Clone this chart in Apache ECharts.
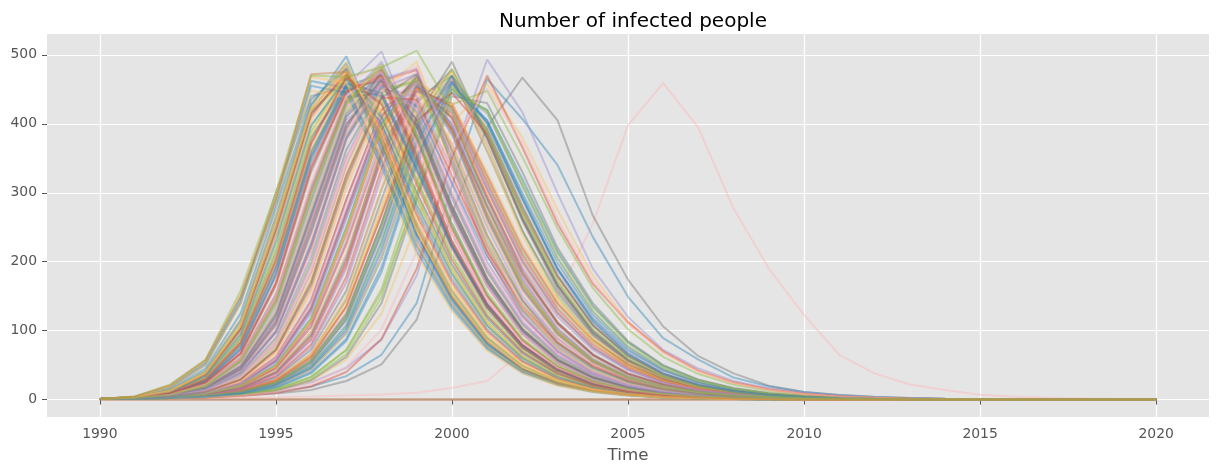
<!DOCTYPE html>
<html>
<head>
<meta charset="utf-8">
<title>Number of infected people</title>
<script src="https://cdn.jsdelivr.net/npm/echarts@6/dist/echarts.min.js"></script>
<style>
  html, body { margin: 0; padding: 0; background: #fff; }
  #chart { width: 1218px; height: 475px; }
</style>
</head>
<body>
<div id="chart"></div>
<script>
// simulated outbreaks, one value per year
const years = [1990, 1991, 1992, 1993, 1994, 1995, 1996, 1997, 1998, 1999, 2000, 2001, 2002, 2003, 2004, 2005,
  2006, 2007, 2008, 2009, 2010, 2011, 2012, 2013, 2014, 2015, 2016, 2017, 2018, 2019, 2020]
const xTicks = [1990, 1995, 2000, 2005, 2010, 2015, 2020]
const yTicks = [0, 100, 200, 300, 400, 500]

const batchA = [
  [1, 3, 11, 35, 100, 240, 410, 478, 370, 240, 148, 82, 44, 24, 13, 7, 4, 2.3, 1.3, 0.8, 0.5, 0.3, 0.2, 0.1, 0.1, 0, 0, 0, 0, 0, 0],
  [1, 2.4, 7, 20, 55, 140, 290, 430, 468, 380, 255, 150, 85, 47, 26, 14, 8, 4.5, 2.5, 1.4, 0.8, 0.5, 0.3, 0.2, 0.1, 0.1, 0, 0, 0, 0, 0],
  [1, 1.8, 4, 10, 25, 62, 145, 290, 420, 462, 370, 250, 150, 88, 50, 28, 16, 9, 5, 2.8, 1.6, 0.9, 0.5, 0.3, 0.2, 0.1, 0.1, 0, 0, 0, 0],
  [1, 2.8, 9, 28, 78, 190, 360, 455, 472, 350, 225, 135, 76, 42, 23, 12, 7, 3.8, 2.1, 1.2, 0.7, 0.4, 0.2, 0.1, 0.1, 0, 0, 0, 0, 0, 0],
  [1, 3.5, 14, 42, 118, 270, 430, 485, 380, 245, 150, 83, 45, 24, 13, 7, 3.9, 2.2, 1.2, 0.7, 0.4, 0.2, 0.1, 0.1, 0, 0, 0, 0, 0, 0, 0],
  [1, 1.5, 2.6, 5, 10, 22, 48, 105, 225, 380, 455, 390, 270, 170, 100, 58, 33, 19, 11, 6, 3.4, 1.9, 1.1, 0.6, 0.3, 0.2, 0.1, 0.1, 0, 0, 0],
  [1, 2, 5, 13, 34, 85, 195, 350, 445, 475, 350, 220, 130, 74, 41, 23, 13, 7, 4, 2.2, 1.2, 0.7, 0.4, 0.2, 0.1, 0.1, 0, 0, 0, 0, 0],
  [1, 2.2, 6, 17, 45, 115, 255, 400, 458, 395, 270, 165, 95, 53, 29, 16, 9, 5, 2.8, 1.5, 0.9, 0.5, 0.3, 0.2, 0.1, 0.1, 0, 0, 0, 0, 0],
  [1, 3, 12, 36, 102, 245, 415, 470, 400, 275, 175, 102, 57, 31, 17, 9, 5, 2.8, 1.5, 0.9, 0.5, 0.3, 0.2, 0.1, 0.1, 0, 0, 0, 0, 0, 0],
  [1, 1.7, 3.5, 8, 19, 46, 108, 230, 380, 455, 400, 280, 175, 103, 59, 33, 18, 10, 5.6, 3.1, 1.7, 1, 0.5, 0.3, 0.2, 0.1, 0.1, 0, 0, 0, 0],
  [1, 2.6, 8, 24, 66, 165, 330, 445, 480, 360, 230, 138, 78, 43, 23, 13, 7, 3.8, 2.1, 1.2, 0.6, 0.4, 0.2, 0.1, 0.1, 0, 0, 0, 0, 0, 0],
  [1, 2.8, 10, 30, 86, 210, 380, 468, 420, 300, 195, 115, 64, 35, 19, 10, 5.5, 3, 1.7, 0.9, 0.5, 0.3, 0.2, 0.1, 0.1, 0, 0, 0, 0, 0, 0],
  [1, 1.6, 3, 6, 13, 28, 62, 135, 270, 410, 470, 370, 245, 150, 88, 50, 28, 16, 9, 5, 2.8, 1.5, 0.8, 0.5, 0.3, 0.2, 0.1, 0, 0, 0, 0],
  [1, 2, 5, 14, 38, 95, 215, 370, 462, 420, 300, 190, 112, 64, 36, 20, 11, 6, 3.4, 1.9, 1, 0.6, 0.3, 0.2, 0.1, 0.1, 0, 0, 0, 0, 0],
  [1, 2.1, 5.5, 15, 39, 98, 220, 380, 462, 478, 340, 210, 122, 69, 38, 21, 12, 6.5, 3.6, 2, 1.1, 0.6, 0.3, 0.2, 0.1, 0.1, 0, 0, 0, 0, 0],
  [1, 3.2, 13, 40, 112, 260, 425, 498, 375, 238, 145, 80, 43, 23, 12, 6.5, 3.5, 1.9, 1, 0.6, 0.3, 0.2, 0.1, 0.1, 0, 0, 0, 0, 0, 0, 0],
  [1, 2.5, 7.5, 22, 60, 150, 305, 435, 490, 385, 250, 150, 85, 47, 26, 14, 7.5, 4, 2.2, 1.2, 0.7, 0.4, 0.2, 0.1, 0.1, 0, 0, 0, 0, 0, 0],
  [1, 3.8, 17, 50, 140, 300, 440, 455, 350, 225, 138, 76, 41, 22, 12, 6.5, 3.5, 1.9, 1, 0.6, 0.3, 0.2, 0.1, 0.1, 0, 0, 0, 0, 0, 0, 0],
  [1, 1.9, 4.5, 11, 28, 70, 160, 315, 440, 468, 365, 240, 145, 84, 47, 26, 14, 8, 4.4, 2.4, 1.3, 0.7, 0.4, 0.2, 0.1, 0.1, 0, 0, 0, 0, 0],
  [1, 2.3, 6.5, 19, 50, 128, 275, 420, 470, 400, 280, 175, 102, 58, 32, 18, 10, 5.5, 3, 1.7, 0.9, 0.5, 0.3, 0.2, 0.1, 0.1, 0, 0, 0, 0, 0]
]

const batchB = [
  [1, 2.6, 9, 28, 80, 195, 360, 460, 430, 320, 210, 128, 73, 41, 22, 12, 6.5, 3.5, 1.9, 1, 0.6, 0.3, 0.2, 0.1, 0.1, 0, 0, 0, 0, 0, 0],
  [1, 2.1, 5.5, 15, 42, 105, 240, 390, 465, 410, 290, 182, 107, 61, 34, 19, 10, 5.6, 3.1, 1.7, 0.9, 0.5, 0.3, 0.2, 0.1, 0.1, 0, 0, 0, 0, 0],
  [1, 1.6, 3.2, 7, 16, 38, 88, 195, 355, 452, 410, 295, 188, 112, 65, 37, 21, 12, 6.5, 3.6, 2, 1.1, 0.6, 0.3, 0.2, 0.1, 0.1, 0, 0, 0, 0],
  [1, 1.4, 2.3, 4, 8, 17, 38, 85, 185, 340, 450, 405, 295, 190, 115, 67, 38, 21, 12, 6.7, 3.7, 2, 1.1, 0.6, 0.3, 0.2, 0.1, 0.1, 0, 0, 0],
  [1, 2.7, 8.5, 26, 72, 180, 350, 455, 505, 380, 240, 142, 80, 44, 24, 13, 7, 3.8, 2, 1.1, 0.6, 0.3, 0.2, 0.1, 0.1, 0, 0, 0, 0, 0, 0],
  [1, 3.1, 12, 37, 104, 250, 420, 482, 385, 255, 158, 90, 49, 27, 14, 7.7, 4.1, 2.2, 1.2, 0.6, 0.3, 0.2, 0.1, 0.1, 0, 0, 0, 0, 0, 0, 0],
  [1, 2, 5, 12, 31, 78, 180, 335, 450, 490, 360, 225, 132, 75, 42, 23, 13, 7, 3.9, 2.1, 1.2, 0.6, 0.3, 0.2, 0.1, 0.1, 0, 0, 0, 0, 0],
  [1, 2.9, 11, 33, 93, 225, 395, 472, 410, 290, 185, 108, 61, 33, 18, 10, 5.3, 2.9, 1.6, 0.9, 0.5, 0.3, 0.2, 0.1, 0.1, 0, 0, 0, 0, 0, 0],
  [1, 2.4, 7, 20, 56, 140, 295, 430, 480, 370, 240, 145, 82, 45, 25, 14, 7.5, 4, 2.2, 1.2, 0.6, 0.3, 0.2, 0.1, 0.1, 0, 0, 0, 0, 0, 0],
  [1, 1.8, 4, 9.5, 23, 57, 132, 270, 410, 468, 390, 265, 163, 96, 55, 31, 17, 9.5, 5.3, 2.9, 1.6, 0.9, 0.5, 0.3, 0.2, 0.1, 0.1, 0, 0, 0, 0],
  [1, 4.2, 19, 54, 148, 292, 462, 452, 345, 222, 136, 76, 41, 22, 12, 6.3, 3.4, 1.8, 1, 0.5, 0.3, 0.2, 0.1, 0.1, 0, 0, 0, 0, 0, 0, 0],
  [1, 2.2, 6, 16, 44, 110, 245, 395, 472, 400, 275, 170, 99, 56, 31, 17, 9.5, 5.2, 2.9, 1.6, 0.9, 0.5, 0.3, 0.2, 0.1, 0.1, 0, 0, 0, 0, 0],
  [1, 1.5, 2.8, 5.5, 12, 26, 58, 125, 255, 400, 462, 380, 260, 160, 95, 55, 31, 17, 9.6, 5.3, 2.9, 1.6, 0.9, 0.5, 0.3, 0.2, 0.1, 0.1, 0, 0, 0],
  [1, 3.3, 13, 39, 108, 255, 420, 476, 395, 265, 165, 95, 52, 28, 15, 8, 4.3, 2.3, 1.2, 0.7, 0.4, 0.2, 0.1, 0.1, 0, 0, 0, 0, 0, 0, 0],
  [1, 1.9, 4.8, 12, 30, 75, 172, 325, 445, 462, 355, 232, 140, 81, 46, 26, 14, 7.8, 4.3, 2.3, 1.3, 0.7, 0.4, 0.2, 0.1, 0.1, 0, 0, 0, 0, 0],
  [1, 2.5, 7.8, 23, 62, 155, 315, 440, 482, 375, 245, 148, 84, 46, 25, 14, 7.5, 4, 2.2, 1.2, 0.6, 0.3, 0.2, 0.1, 0.1, 0, 0, 0, 0, 0, 0],
  [1, 2.7, 9.5, 29, 82, 200, 370, 465, 440, 330, 218, 133, 76, 42, 23, 12, 6.7, 3.6, 2, 1.1, 0.6, 0.3, 0.2, 0.1, 0.1, 0, 0, 0, 0, 0, 0],
  [1, 1.7, 3.8, 8.5, 20, 50, 118, 250, 400, 470, 385, 262, 160, 94, 54, 30, 17, 9.3, 5.1, 2.8, 1.5, 0.8, 0.5, 0.3, 0.2, 0.1, 0.1, 0, 0, 0, 0],
  [1, 2.3, 6.2, 18, 48, 122, 265, 410, 475, 395, 270, 168, 98, 55, 30, 17, 9.2, 5, 2.7, 1.5, 0.8, 0.4, 0.2, 0.1, 0.1, 0, 0, 0, 0, 0, 0],
  [1, 1.5, 2.6, 5, 10.5, 23, 52, 115, 240, 390, 468, 385, 265, 165, 97, 56, 32, 18, 10, 5.5, 3, 1.7, 0.9, 0.5, 0.3, 0.2, 0.1, 0.1, 0, 0, 0]
]

const batchC = [
  [1, 3, 11.5, 35, 98, 238, 405, 474, 405, 282, 180, 105, 59, 32, 17, 9.3, 5, 2.7, 1.5, 0.8, 0.4, 0.2, 0.1, 0.1, 0, 0, 0, 0, 0, 0, 0],
  [1, 2, 5.2, 14.5, 40, 100, 228, 380, 468, 415, 295, 186, 109, 62, 35, 19, 10.5, 5.8, 3.2, 1.7, 0.9, 0.5, 0.3, 0.2, 0.1, 0.1, 0, 0, 0, 0, 0],
  [1, 1.6, 3.4, 7.5, 17.5, 42, 98, 212, 368, 458, 405, 285, 180, 107, 62, 35, 20, 11, 6, 3.3, 1.8, 1, 0.5, 0.3, 0.2, 0.1, 0.1, 0, 0, 0, 0],
  [1, 2.6, 8.2, 25, 68, 170, 338, 448, 465, 350, 225, 135, 77, 42, 23, 12.5, 6.8, 3.7, 2, 1.1, 0.6, 0.3, 0.2, 0.1, 0.1, 0, 0, 0, 0, 0, 0],
  [1, 3.4, 13.5, 41, 115, 265, 428, 488, 372, 240, 147, 82, 44, 24, 13, 7, 3.7, 2, 1.1, 0.6, 0.3, 0.2, 0.1, 0.1, 0, 0, 0, 0, 0, 0, 0],
  [1, 2.1, 5.6, 15, 40, 100, 225, 385, 465, 480, 345, 215, 126, 71, 39, 22, 12, 6.6, 3.6, 2, 1.1, 0.6, 0.3, 0.2, 0.1, 0.1, 0, 0, 0, 0, 0],
  [1, 2.2, 6.3, 18, 49, 125, 270, 415, 470, 395, 272, 170, 99, 56, 31, 17, 9.4, 5.1, 2.8, 1.5, 0.8, 0.4, 0.2, 0.1, 0.1, 0, 0, 0, 0, 0, 0],
  [1, 1.4, 2.4, 4.4, 9, 19, 43, 95, 205, 360, 455, 395, 282, 180, 108, 63, 36, 20, 11, 6.2, 3.4, 1.9, 1, 0.6, 0.3, 0.2, 0.1, 0.1, 0, 0, 0],
  [1, 2.9, 10.5, 32, 90, 218, 388, 470, 415, 295, 190, 112, 63, 35, 19, 10, 5.5, 3, 1.6, 0.9, 0.5, 0.3, 0.2, 0.1, 0.1, 0, 0, 0, 0, 0, 0],
  [1, 1.8, 4.2, 10, 24, 60, 140, 282, 418, 470, 382, 258, 157, 92, 52, 29, 16, 9, 5, 2.7, 1.5, 0.8, 0.4, 0.2, 0.1, 0.1, 0, 0, 0, 0, 0],
  [1, 2.4, 7.2, 21, 58, 145, 300, 432, 478, 378, 248, 150, 86, 48, 26, 14, 7.7, 4.2, 2.3, 1.2, 0.7, 0.4, 0.2, 0.1, 0.1, 0, 0, 0, 0, 0, 0],
  [1, 3.6, 15, 45, 125, 278, 435, 480, 362, 232, 142, 79, 43, 23, 12.5, 6.7, 3.6, 1.9, 1, 0.6, 0.3, 0.2, 0.1, 0.1, 0, 0, 0, 0, 0, 0, 0],
  [1, 2, 4.9, 12.5, 32, 80, 185, 340, 452, 472, 352, 225, 133, 76, 43, 24, 13, 7.2, 4, 2.2, 1.2, 0.6, 0.3, 0.2, 0.1, 0.1, 0, 0, 0, 0, 0],
  [1, 2.1, 5.8, 16.5, 45, 112, 250, 398, 466, 405, 282, 176, 103, 59, 33, 18, 10, 5.4, 3, 1.6, 0.9, 0.5, 0.3, 0.2, 0.1, 0.1, 0, 0, 0, 0, 0],
  [1, 1.6, 3.1, 6.3, 13.5, 30, 66, 142, 280, 418, 475, 362, 238, 145, 85, 48, 27, 15, 8.4, 4.6, 2.5, 1.4, 0.8, 0.4, 0.2, 0.1, 0.1, 0, 0, 0, 0],
  [1, 2.7, 9.8, 30, 84, 205, 375, 466, 432, 318, 206, 123, 70, 38, 21, 11, 6, 3.3, 1.8, 1, 0.5, 0.3, 0.2, 0.1, 0.1, 0, 0, 0, 0, 0, 0],
  [1, 2.9, 9.5, 29, 80, 198, 370, 462, 485, 360, 228, 136, 77, 42, 23, 12.5, 6.8, 3.6, 2, 1.1, 0.6, 0.3, 0.2, 0.1, 0.1, 0, 0, 0, 0, 0, 0],
  [1, 1.7, 3.6, 8.2, 19.5, 47, 112, 240, 392, 465, 392, 270, 168, 99, 57, 32, 18, 10, 5.5, 3, 1.6, 0.9, 0.5, 0.3, 0.2, 0.1, 0.1, 0, 0, 0, 0],
  [1, 4, 18, 52, 142, 285, 455, 445, 338, 215, 132, 73, 39, 21, 11, 6, 3.2, 1.7, 0.9, 0.5, 0.3, 0.2, 0.1, 0.1, 0, 0, 0, 0, 0, 0, 0],
  [1, 2.3, 6.6, 19.5, 53, 133, 282, 425, 474, 392, 266, 164, 95, 53, 29, 16, 8.8, 4.8, 2.6, 1.4, 0.8, 0.4, 0.2, 0.1, 0.1, 0, 0, 0, 0, 0, 0]
]

const batchD = [
  [1, 1.3, 2, 3.5, 6.5, 13, 28, 62, 140, 290, 440, 430, 330, 220, 140, 85, 50, 29, 17, 9.5, 5.3, 3, 1.7, 0.9, 0.5, 0.3, 0.2, 0.1, 0.1, 0, 0],
  [1, 1.5, 2.8, 5.8, 12.5, 28, 65, 150, 305, 445, 420, 310, 205, 128, 77, 45, 26, 15, 8.4, 4.7, 2.6, 1.5, 0.8, 0.4, 0.2, 0.1, 0.1, 0, 0, 0, 0],
  [1, 1.4, 2.2, 3.8, 7.5, 15, 33, 72, 160, 315, 452, 418, 310, 205, 128, 77, 45, 26, 15, 8.4, 4.7, 2.6, 1.5, 0.8, 0.4, 0.2, 0.1, 0.1, 0, 0, 0],
  [1, 1.8, 4.2, 10.5, 27, 68, 160, 310, 440, 445, 335, 225, 142, 87, 52, 30, 17, 9.7, 5.4, 3, 1.6, 0.9, 0.5, 0.3, 0.2, 0.1, 0.1, 0, 0, 0, 0],
  [1, 1.3, 1.9, 3, 5.2, 9.5, 19, 40, 88, 190, 350, 470, 366, 255, 168, 112, 70, 42, 25, 15, 8.5, 4.8, 2.7, 1.5, 0.8, 0.5, 0.3, 0.2, 0.1, 0.1, 0],
  [1, 1.5, 2.7, 5.2, 11, 24, 54, 118, 245, 395, 470, 400, 290, 190, 118, 71, 42, 24, 14, 7.8, 4.3, 2.4, 1.3, 0.7, 0.4, 0.2, 0.1, 0.1, 0, 0, 0],
  [1, 1.6, 3.2, 7, 16, 37, 86, 190, 350, 455, 418, 305, 200, 125, 75, 44, 25, 14, 8, 4.4, 2.4, 1.3, 0.7, 0.4, 0.2, 0.1, 0.1, 0, 0, 0, 0],
  [1, 1.5, 2.7, 5.4, 11.5, 25, 56, 122, 255, 410, 490, 380, 262, 165, 98, 57, 33, 19, 10.5, 5.8, 3.2, 1.8, 1, 0.5, 0.3, 0.2, 0.1, 0.1, 0, 0, 0],
  [1, 1.7, 3.7, 8.5, 20, 48, 115, 245, 395, 462, 430, 330, 225, 145, 90, 54, 32, 18, 10.5, 6, 3.3, 1.8, 1, 0.6, 0.3, 0.2, 0.1, 0.1, 0, 0, 0],
  [1, 1.3, 2.1, 3.7, 7, 14, 30, 66, 148, 300, 448, 420, 315, 212, 134, 82, 48, 28, 16, 9, 5, 2.8, 1.5, 0.8, 0.4, 0.2, 0.1, 0.1, 0, 0, 0],
  [1, 1.9, 4.6, 12, 32, 80, 190, 345, 450, 430, 320, 212, 133, 81, 48, 28, 16, 9, 5, 2.8, 1.5, 0.8, 0.4, 0.2, 0.1, 0.1, 0, 0, 0, 0, 0],
  [1, 1.5, 3, 6.4, 14.5, 34, 80, 178, 335, 452, 425, 315, 210, 132, 80, 47, 27, 15.5, 8.8, 4.9, 2.7, 1.5, 0.8, 0.4, 0.2, 0.1, 0.1, 0, 0, 0, 0]
]

const batchE = [
  [1, 2.9, 10, 31, 88, 212, 380, 455, 410, 300, 196, 118, 67, 37, 20, 11, 6, 3.2, 1.7, 0.9, 0.5, 0.3, 0.2, 0.1, 0.1, 0, 0, 0, 0, 0, 0],
  [1, 2.2, 6.1, 17.5, 47, 118, 262, 405, 452, 408, 292, 185, 110, 63, 35, 19, 10.5, 5.7, 3.1, 1.7, 0.9, 0.5, 0.3, 0.2, 0.1, 0.1, 0, 0, 0, 0, 0],
  [1, 2.5, 7.6, 22.5, 61, 152, 308, 438, 445, 342, 226, 138, 79, 44, 24, 13, 7, 3.8, 2, 1.1, 0.6, 0.3, 0.2, 0.1, 0.1, 0, 0, 0, 0, 0, 0],
  [1, 1.9, 4.4, 10.8, 27, 67, 155, 305, 432, 450, 372, 255, 158, 93, 53, 30, 17, 9.4, 5.2, 2.8, 1.5, 0.8, 0.4, 0.2, 0.1, 0.1, 0, 0, 0, 0, 0],
  [1, 3.3, 12.8, 38.5, 107, 252, 418, 465, 372, 248, 155, 89, 49, 27, 14, 7.6, 4.1, 2.2, 1.2, 0.6, 0.3, 0.2, 0.1, 0.1, 0, 0, 0, 0, 0, 0, 0],
  [1, 2, 5.3, 15, 41, 103, 235, 388, 460, 420, 305, 196, 117, 68, 38, 21, 11.5, 6.3, 3.5, 1.9, 1, 0.6, 0.3, 0.2, 0.1, 0.1, 0, 0, 0, 0, 0],
  [1, 1.5, 2.9, 5.8, 12.8, 28, 62, 135, 268, 405, 445, 385, 275, 178, 108, 64, 37, 21, 12, 6.6, 3.6, 2, 1.1, 0.6, 0.3, 0.2, 0.1, 0.1, 0, 0, 0],
  [1, 2.6, 9.2, 28, 79, 192, 355, 458, 445, 335, 222, 136, 78, 43, 23, 12.5, 6.8, 3.7, 2, 1.1, 0.6, 0.3, 0.2, 0.1, 0.1, 0, 0, 0, 0, 0, 0],
  [1, 1.7, 3.9, 9, 21.5, 53, 125, 262, 405, 458, 398, 278, 174, 103, 59, 33, 19, 10.5, 5.8, 3.2, 1.7, 0.9, 0.5, 0.3, 0.2, 0.1, 0.1, 0, 0, 0, 0],
  [1, 2.7, 8.8, 27, 74, 184, 352, 452, 462, 345, 222, 133, 75, 41, 22, 12, 6.5, 3.5, 1.9, 1, 0.5, 0.3, 0.2, 0.1, 0.1, 0, 0, 0, 0, 0, 0],
  [1, 3.9, 17.5, 51, 139, 288, 448, 438, 330, 210, 128, 71, 38, 20, 11, 5.8, 3.1, 1.7, 0.9, 0.5, 0.3, 0.2, 0.1, 0.1, 0, 0, 0, 0, 0, 0, 0],
  [1, 2.1, 5.2, 13.5, 35, 88, 202, 362, 450, 462, 345, 222, 131, 75, 42, 23, 13, 7, 3.9, 2.1, 1.1, 0.6, 0.3, 0.2, 0.1, 0.1, 0, 0, 0, 0, 0],
  [1, 2.3, 6.4, 18.5, 51, 130, 278, 422, 468, 390, 265, 164, 95, 54, 30, 16.5, 9, 4.9, 2.7, 1.5, 0.8, 0.4, 0.2, 0.1, 0.1, 0, 0, 0, 0, 0, 0],
  [1, 3.1, 12.2, 37, 103, 248, 415, 472, 392, 268, 170, 99, 55, 30, 16, 8.7, 4.7, 2.5, 1.3, 0.7, 0.4, 0.2, 0.1, 0.1, 0, 0, 0, 0, 0, 0, 0],
  [1, 1.4, 2.5, 4.7, 9.6, 20.5, 46, 102, 218, 372, 460, 392, 280, 180, 108, 63, 36, 20, 11.5, 6.4, 3.5, 1.9, 1, 0.6, 0.3, 0.2, 0.1, 0.1, 0, 0, 0],
  [1, 1.9, 4.9, 13.2, 36, 90, 208, 362, 455, 428, 312, 200, 120, 70, 39, 22, 12, 6.6, 3.6, 2, 1.1, 0.6, 0.3, 0.2, 0.1, 0.1, 0, 0, 0, 0, 0],
  [1, 1.6, 3.3, 7.3, 17, 40, 94, 205, 362, 456, 408, 290, 184, 110, 64, 36, 21, 11.5, 6.3, 3.5, 1.9, 1, 0.6, 0.3, 0.2, 0.1, 0.1, 0, 0, 0, 0],
  [1, 2.8, 10.2, 31, 87, 212, 383, 476, 418, 296, 190, 112, 63, 35, 19, 10, 5.5, 3, 1.6, 0.9, 0.5, 0.3, 0.2, 0.1, 0.1, 0, 0, 0, 0, 0, 0],
  [1, 2.4, 7.1, 20.5, 57, 143, 298, 432, 486, 382, 250, 152, 87, 48, 26, 14, 7.7, 4.2, 2.3, 1.2, 0.7, 0.4, 0.2, 0.1, 0.1, 0, 0, 0, 0, 0, 0],
  [1, 1.3, 2, 3.3, 5.9, 11, 22, 47, 102, 215, 370, 452, 372, 262, 172, 110, 68, 41, 24, 14, 8, 4.5, 2.5, 1.4, 0.8, 0.4, 0.2, 0.1, 0.1, 0, 0]
]

const batchF = [
  [1, 1.8, 4.3, 11, 29, 72, 170, 325, 438, 435, 325, 215, 135, 82, 49, 28, 16, 9, 5, 2.8, 1.5, 0.8, 0.4, 0.2, 0.1, 0.1, 0, 0, 0, 0, 0],
  [1, 2.5, 8.6, 26, 73, 180, 345, 452, 440, 335, 222, 137, 79, 44, 24, 13, 7, 3.8, 2.1, 1.1, 0.6, 0.3, 0.2, 0.1, 0.1, 0, 0, 0, 0, 0, 0],
  [1, 1.5, 2.9, 6.1, 13.8, 32, 76, 170, 325, 448, 422, 310, 204, 127, 76, 44, 25, 14, 8, 4.4, 2.4, 1.3, 0.7, 0.4, 0.2, 0.1, 0.1, 0, 0, 0, 0],
  [1, 2.1, 5.6, 16, 43, 108, 242, 392, 478, 405, 280, 175, 102, 58, 32, 17.5, 9.6, 5.2, 2.9, 1.6, 0.9, 0.5, 0.3, 0.2, 0.1, 0.1, 0, 0, 0, 0, 0],
  [1, 3.4, 13.2, 40, 112, 262, 424, 490, 378, 245, 152, 86, 47, 25, 13.5, 7.2, 3.8, 2, 1.1, 0.6, 0.3, 0.2, 0.1, 0.1, 0, 0, 0, 0, 0, 0, 0],
  [1, 1.5, 2.7, 5.3, 11.2, 24.5, 55, 120, 250, 402, 480, 388, 272, 172, 103, 60, 34, 19.5, 11, 6, 3.3, 1.8, 1, 0.5, 0.3, 0.2, 0.1, 0.1, 0, 0, 0],
  [1, 2, 5.1, 12.8, 33, 82, 188, 345, 448, 484, 358, 228, 134, 76, 42, 23, 13, 7.1, 3.9, 2.1, 1.2, 0.6, 0.3, 0.2, 0.1, 0.1, 0, 0, 0, 0, 0],
  [1, 2.6, 8.1, 24.5, 67, 168, 335, 446, 470, 355, 230, 138, 79, 44, 24, 13, 7, 3.8, 2.1, 1.1, 0.6, 0.3, 0.2, 0.1, 0.1, 0, 0, 0, 0, 0, 0],
  [1, 3, 11, 34, 95, 230, 398, 465, 400, 282, 182, 107, 60, 33, 18, 9.6, 5.2, 2.8, 1.5, 0.8, 0.4, 0.2, 0.1, 0.1, 0, 0, 0, 0, 0, 0, 0],
  [1, 1.8, 4.1, 9.8, 23.5, 58, 135, 275, 412, 462, 385, 262, 161, 95, 54, 30, 17, 9.3, 5.1, 2.8, 1.5, 0.8, 0.4, 0.2, 0.1, 0.1, 0, 0, 0, 0, 0],
  [1, 2.2, 6.2, 17.8, 48, 121, 266, 410, 462, 398, 276, 172, 101, 57, 32, 17.5, 9.6, 5.2, 2.9, 1.6, 0.9, 0.5, 0.3, 0.2, 0.1, 0.1, 0, 0, 0, 0, 0],
  [1, 4.3, 20, 56, 152, 296, 468, 460, 352, 226, 139, 77, 42, 22, 12, 6.4, 3.4, 1.8, 1, 0.5, 0.3, 0.2, 0.1, 0.1, 0, 0, 0, 0, 0, 0, 0],
  [1, 1.7, 3.7, 8.6, 20.5, 50, 117, 248, 398, 468, 390, 266, 164, 96, 55, 31, 17, 9.5, 5.2, 2.9, 1.6, 0.9, 0.5, 0.3, 0.2, 0.1, 0.1, 0, 0, 0, 0],
  [1, 2.5, 7.4, 21.8, 60, 150, 310, 440, 476, 372, 242, 146, 83, 46, 25, 13.5, 7.3, 4, 2.2, 1.2, 0.6, 0.3, 0.2, 0.1, 0.1, 0, 0, 0, 0, 0, 0],
  [1, 2.7, 9.6, 29.5, 83, 202, 372, 468, 428, 312, 202, 121, 69, 38, 20.5, 11, 6, 3.3, 1.8, 1, 0.5, 0.3, 0.2, 0.1, 0.1, 0, 0, 0, 0, 0, 0],
  [1, 1.4, 2.3, 4.2, 8.4, 17.8, 40, 88, 192, 348, 458, 402, 292, 188, 113, 66, 38, 21.5, 12, 6.7, 3.7, 2, 1.1, 0.6, 0.3, 0.2, 0.1, 0.1, 0, 0, 0],
  [1, 2, 5.1, 14.2, 39, 98, 224, 378, 465, 418, 298, 190, 113, 65, 37, 20, 11, 6, 3.3, 1.8, 1, 0.5, 0.3, 0.2, 0.1, 0.1, 0, 0, 0, 0, 0],
  [1, 1.9, 4.6, 11.5, 29, 72, 165, 318, 438, 472, 362, 238, 144, 83, 47, 26, 14.5, 8, 4.4, 2.4, 1.3, 0.7, 0.4, 0.2, 0.1, 0.1, 0, 0, 0, 0, 0],
  [1, 3.2, 12.5, 38, 106, 252, 420, 484, 388, 258, 162, 93, 51, 28, 15, 8, 4.3, 2.3, 1.2, 0.7, 0.4, 0.2, 0.1, 0.1, 0, 0, 0, 0, 0, 0, 0],
  [1, 2.3, 6.8, 20, 55, 138, 290, 428, 482, 385, 255, 155, 89, 50, 27, 15, 8, 4.4, 2.4, 1.3, 0.7, 0.4, 0.2, 0.1, 0.1, 0, 0, 0, 0, 0, 0]
]

// later, slower outbreaks
const batchG = [
  [1, 1.6, 3.2, 6.8, 15, 34, 78, 170, 320, 440, 462, 370, 258, 165, 100, 59, 34, 19.5, 11, 6.2, 3.4, 1.9, 1, 0.6, 0.3, 0.2, 0.1, 0.1, 0, 0, 0],
  [1, 1.7, 3.6, 8, 19, 45, 105, 225, 370, 448, 415, 305, 200, 125, 75, 44, 25, 14, 8, 4.4, 2.4, 1.3, 0.7, 0.4, 0.2, 0.1, 0.1, 0, 0, 0, 0],
  [1, 1.4, 2.4, 4.5, 9.2, 19.5, 44, 96, 205, 355, 445, 420, 320, 215, 136, 83, 49, 28, 16, 9, 5, 2.8, 1.5, 0.8, 0.4, 0.2, 0.1, 0.1, 0, 0, 0],
  [1, 1.8, 4, 9.4, 22.5, 55, 128, 265, 400, 455, 400, 292, 192, 120, 72, 42, 24, 13.5, 7.6, 4.2, 2.3, 1.3, 0.7, 0.4, 0.2, 0.1, 0.1, 0, 0, 0, 0],
  [1, 1.5, 2.9, 6, 13, 29, 66, 145, 290, 430, 478, 378, 262, 166, 100, 58, 33, 19, 10.5, 5.8, 3.2, 1.8, 1, 0.5, 0.3, 0.2, 0.1, 0.1, 0, 0, 0],
  [1, 1.3, 2.1, 3.6, 6.8, 13, 27, 58, 125, 255, 400, 458, 380, 275, 180, 113, 69, 41, 24, 14, 8, 4.5, 2.5, 1.4, 0.8, 0.4, 0.2, 0.1, 0.1, 0, 0],
  [1, 1.6, 3.4, 7.6, 17.8, 42, 98, 210, 358, 446, 425, 320, 215, 137, 84, 50, 29, 16.5, 9.4, 5.2, 2.9, 1.6, 0.9, 0.5, 0.3, 0.2, 0.1, 0.1, 0, 0, 0],
  [1, 1.5, 2.8, 5.6, 12, 26.5, 60, 132, 268, 412, 466, 392, 282, 183, 112, 66, 38, 22, 12.5, 7, 3.9, 2.2, 1.2, 0.6, 0.3, 0.2, 0.1, 0.1, 0, 0, 0],
  [1, 1.9, 4.3, 10.2, 25, 61, 142, 290, 420, 460, 392, 280, 180, 110, 65, 38, 22, 12.5, 7, 3.9, 2.1, 1.2, 0.6, 0.3, 0.2, 0.1, 0.1, 0, 0, 0, 0],
  [1, 1.4, 2.5, 4.8, 10, 21.5, 49, 108, 230, 380, 462, 405, 300, 198, 123, 74, 43, 25, 14, 8, 4.4, 2.4, 1.3, 0.7, 0.4, 0.2, 0.1, 0.1, 0, 0, 0],
  [1, 1.9, 4.7, 12.5, 33, 83, 196, 352, 452, 440, 335, 226, 144, 88, 53, 31, 18, 10, 5.6, 3.1, 1.7, 0.9, 0.5, 0.3, 0.2, 0.1, 0.1, 0, 0, 0, 0],
  [1, 1.6, 3.1, 6.5, 14.2, 32, 72, 158, 305, 435, 470, 360, 245, 155, 93, 54, 31, 17.5, 9.8, 5.4, 3, 1.7, 0.9, 0.5, 0.3, 0.2, 0.1, 0.1, 0, 0, 0],
  [1, 1.7, 3.8, 8.7, 20.5, 49, 115, 245, 390, 452, 410, 300, 198, 124, 75, 44, 25, 14, 8, 4.4, 2.4, 1.3, 0.7, 0.4, 0.2, 0.1, 0.1, 0, 0, 0, 0],
  [1, 1.4, 2.3, 4.1, 7.9, 15.5, 33, 72, 155, 298, 428, 448, 352, 248, 162, 102, 62, 37, 21.5, 12.5, 7, 3.9, 2.2, 1.2, 0.6, 0.3, 0.2, 0.1, 0.1, 0, 0],
  [1, 1.5, 2.6, 5.1, 10.8, 23.5, 53, 116, 242, 392, 458, 398, 292, 192, 118, 70, 41, 23.5, 13.5, 7.5, 4.1, 2.3, 1.2, 0.7, 0.4, 0.2, 0.1, 0.1, 0, 0, 0],
  [1, 1.6, 3.3, 7.2, 16.5, 39, 92, 200, 350, 448, 430, 325, 220, 140, 86, 51, 30, 17, 9.6, 5.3, 2.9, 1.6, 0.9, 0.5, 0.3, 0.2, 0.1, 0.1, 0, 0, 0],
  [1, 2, 5.2, 14.5, 39, 98, 225, 378, 455, 425, 315, 208, 130, 78, 46, 27, 15.5, 8.7, 4.8, 2.7, 1.5, 0.8, 0.4, 0.2, 0.1, 0.1, 0, 0, 0, 0, 0],
  [1, 1.4, 2.4, 4.6, 9.5, 20, 45, 99, 212, 365, 452, 415, 310, 205, 128, 77, 45, 26, 15, 8.3, 4.6, 2.5, 1.4, 0.7, 0.4, 0.2, 0.1, 0.1, 0, 0, 0],
  [1, 1.8, 4.1, 9.6, 23, 56, 132, 272, 410, 470, 395, 282, 182, 112, 66, 38, 22, 12.5, 7, 3.9, 2.1, 1.2, 0.6, 0.3, 0.2, 0.1, 0.1, 0, 0, 0, 0],
  [1, 1.5, 2.8, 5.7, 12.3, 27, 61, 135, 275, 420, 476, 388, 276, 178, 108, 63, 36, 21, 12, 6.6, 3.6, 2, 1.1, 0.6, 0.3, 0.2, 0.1, 0.1, 0, 0, 0]
]

// runs that never took off
const zeroRuns = [
  [0, 0, 0, 0, 0, 0, 0, 0, 0, 0, 0, 0, 0, 0, 0, 0, 0, 0, 0, 0, 0, 0, 0, 0, 0, 0, 0, 0, 0, 0, 0],
  [0, 0, 0, 0, 0, 0, 0, 0, 0, 0, 0, 0, 0, 0, 0, 0, 0, 0, 0, 0, 0, 0, 0, 0, 0, 0, 0, 0, 0, 0, 0],
  [0, 0, 0, 0, 0, 0, 0, 0, 0, 0, 0, 0, 0, 0, 0, 0, 0, 0, 0, 0, 0, 0, 0, 0, 0, 0, 0, 0, 0, 0, 0]
]

// the odd ones that stand out
const earlyBroad = [1, 4.5, 22, 58, 158, 300, 470, 468, 482, 506, 420, 280, 170, 100, 58, 33, 19, 11, 6, 3.5, 2, 1.2, 0.7, 0.4, 0.2, 0.1, 0.1, 0, 0, 0, 0]
const earlyFlat = [1, 4.6, 21, 57, 150, 290, 472, 475, 380, 250, 150, 85, 45, 24, 13, 7, 4, 2.4, 1.4, 0.8, 0.5, 0.3, 0.2, 0.1, 0.1, 0, 0, 0, 0, 0, 0]
const lateBlue = [1, 1.4, 2.2, 3.8, 6.5, 11, 19, 34, 65, 140, 310, 465, 407, 340, 236, 149, 89, 58, 32, 19, 11, 6.5, 3.8, 2.2, 1.3, 0.8, 0.5, 0.3, 0.2, 0.1, 0.1]
const latePurple = [1, 1.4, 2.3, 4.2, 7.5, 13, 25, 46, 87, 180, 350, 493, 417, 299, 190, 120, 72, 45, 27, 16, 9.5, 5.6, 3.3, 1.9, 1.1, 0.6, 0.4, 0.2, 0.1, 0.1, 0]
const lateGray = [1, 1.4, 2.2, 3.5, 6, 9, 14, 27, 51, 116, 270, 395, 467, 405, 267, 174, 106, 63, 38, 20, 11, 6.5, 4, 2.4, 1.4, 0.8, 0.5, 0.3, 0.2, 0.1, 0.1]
const latePink = [1, 1.2, 1.6, 2, 2.7, 3.5, 4.5, 6, 7.5, 10, 17, 27, 70, 150, 255, 398, 459, 394, 277, 190, 123, 65, 38, 22, 14, 7, 4, 2.5, 1.5, 1, 0.5]

const palette = ['#E24A33', '#348ABD', '#988ED5', '#777777', '#FBC15E', '#8EBA42', '#FFB5B8']
const zeroColors = ['#E24A33', '#FBC15E', '#777777']

function lineSeries(run, color) {
  return {
    type: 'line',
    data: years.map((y, k) => [y, run[k]]),
    showSymbol: false,
    symbol: 'none',
    silent: true,
    lineStyle: { width: 2, color: color, opacity: 0.45 },
  }
}

const series = []
zeroRuns.forEach((run, i) => series.push(lineSeries(run, zeroColors[i])))
series.push(lineSeries(latePink, palette[6]))
series.push(lineSeries(lateGray, palette[3]))
series.push(lineSeries(lateBlue, palette[1]))
series.push(lineSeries(latePurple, palette[2]))
const cycled = [].concat(batchA, batchG, batchB, batchC, batchD, batchE, batchF)
cycled.forEach((run, i) => series.push(lineSeries(run, palette[i % palette.length])))
series.push(lineSeries(earlyBroad, palette[5]))
series.push(lineSeries(earlyFlat, '#C8803E'))

const font = 'DejaVu Sans'
const chart = echarts.init(document.getElementById('chart'))
chart.setOption({
  animation: false,
  backgroundColor: '#ffffff',
  title: {
    text: 'Number of infected people',
    left: 628,
    top: 7,
    textAlign: 'center',
    textStyle: { color: '#000', fontSize: 20, fontWeight: 'normal', fontFamily: font },
  },
  grid: {
    left: 47, right: 9, top: 34, bottom: 58,
    show: true, backgroundColor: '#E5E5E5', borderWidth: 0,
    outerBoundsMode: 'none',
  },
  xAxis: {
    type: 'value',
    min: 1988.5,
    max: 2021.5,
    name: 'Time',
    nameLocation: 'middle',
    nameGap: 30,
    nameTextStyle: { color: '#555', fontSize: 16.7, fontFamily: font },
    axisLine: { show: false },
    axisTick: { show: true, customValues: xTicks, length: 5, lineStyle: { color: '#555', width: 1 } },
    axisLabel: { customValues: xTicks, color: '#555', fontSize: 13.9, fontFamily: font, margin: 10, formatter: (v) => String(v) },
    splitLine: { show: true, lineStyle: { color: '#ffffff', width: 1.2 } },
  },
  yAxis: {
    type: 'value',
    min: -25.25,
    max: 530.25,
    axisLine: { show: false },
    axisTick: { show: true, customValues: yTicks, length: 5, lineStyle: { color: '#555', width: 1 } },
    axisLabel: { customValues: yTicks, color: '#555', fontSize: 13.9, fontFamily: font, margin: 10, formatter: (v) => String(v) },
    splitLine: { show: true, lineStyle: { color: '#ffffff', width: 1.2 } },
  },
  series: series,
})
</script>
</body>
</html>
